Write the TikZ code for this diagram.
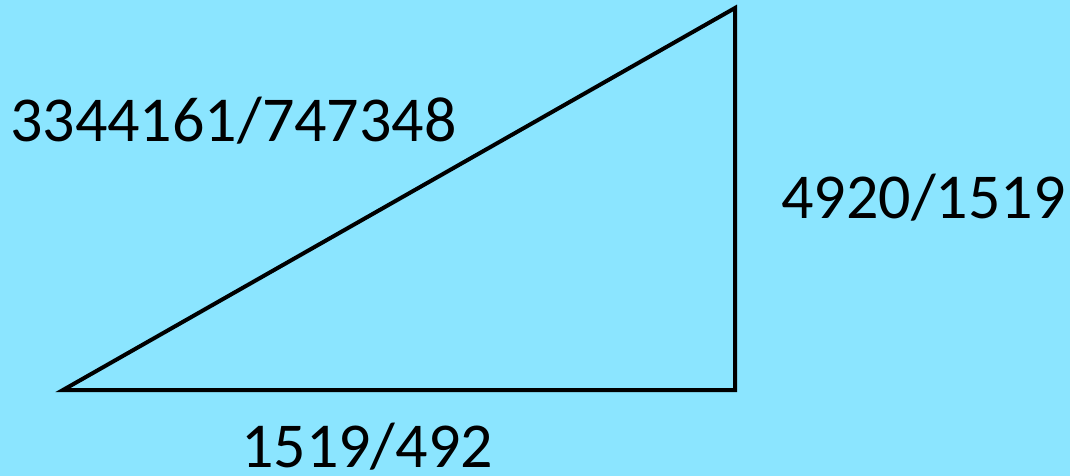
\documentclass[tikz,border=0pt]{standalone}
\usepackage{fontspec}
\setmainfont{Carlito}
\definecolor{bgcyan}{HTML}{8BE5FF}
\tikzset{
  side/.style={line width=4pt, line join=miter, draw=black},
  lbl/.style={anchor=base west, inner sep=0pt, font=\fontsize{64}{70}\selectfont}
}
\begin{document}
\begin{tikzpicture}[x=1pt,y=-1pt]
\fill[bgcyan] (0,0) rectangle (1070,476);
\useasboundingbox (0,0) rectangle (1070,476);
\coordinate (A) at (63,390);
\coordinate (B) at (735,390);
\coordinate (C) at (735,8);
\draw[side] (A) -- (B) -- (C) -- cycle;
\node[lbl] (hyp) at (10,141) {3344161/747348};
\node[lbl] (vert) at (781,218) {4920/1519};
\node[lbl] (base) at (241,467) {1519/492};
\end{tikzpicture}
\end{document}
